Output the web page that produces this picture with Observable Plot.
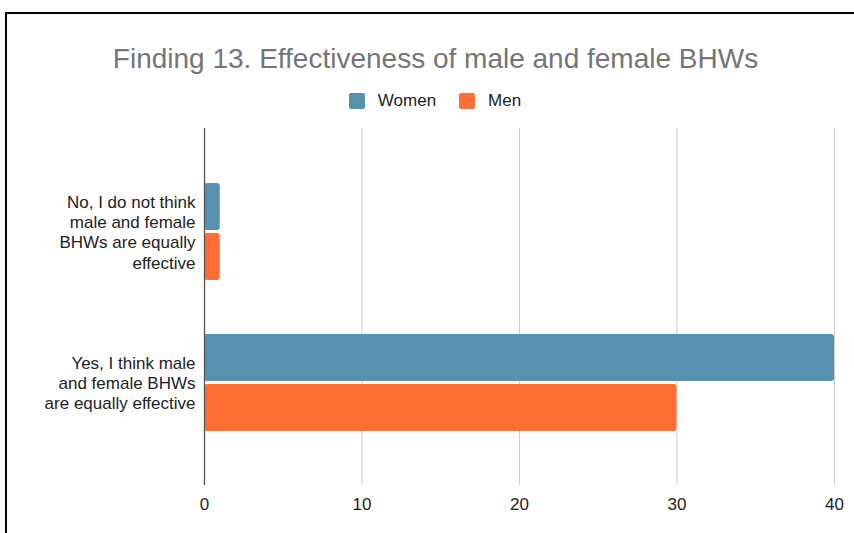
<!DOCTYPE html>
<html>
<head>
<meta charset="utf-8">
<script src="https://cdn.jsdelivr.net/npm/d3@7"></script>
<script src="https://cdn.jsdelivr.net/npm/@observablehq/plot@0.6"></script>
<style>
  body { margin: 0; background: #fff; font-family: "Liberation Sans", Arial, sans-serif; }
  #frame { position: relative; width: 854px; height: 533px; overflow: hidden; background: #fff; }
  #border { position: absolute; left: 5px; top: 12px; width: 900px; height: 600px;
            border-top: 2px solid #000; border-left: 2px solid #000; }
  #title { position: absolute; left: 0; width: 871px; top: 42px; text-align: center;
           font-size: 28px; line-height: 34px; color: #757575; white-space: nowrap; }
  #legend { position: absolute; left: 0; width: 870px; top: 91px; display: flex;
            justify-content: center; align-items: center; font-size: 17px; color: #222; }
  .item { display: flex; align-items: center; margin: 0 11.5px; }
  .swatch { width: 16px; height: 16px; border-radius: 2px; margin-right: 13px; }
  #chart { position: absolute; left: 0; top: 118px; }
</style>
</head>
<body>
<div id="frame">
  <div id="border"></div>
  <div id="title">Finding 13. Effectiveness of male and female BHWs</div>
  <div id="legend"></div>
  <div id="chart"></div>
</div>
<script>
// Survey answers (y categories) and how each is written on the axis
const categories = ["no", "yes"];
const categoryLabels = [
  "No, I do not think\nmale and female\nBHWs are equally\neffective",
  "Yes, I think male\nand female BHWs\nare equally effective"
];
// Respondent counts per answer
const series = ["Women", "Men"];
const women = [1, 40];
const men = [1, 30];
const colors = ["#5891b0", "#ff6d33"];
const xTicks = [0, 10, 20, 30, 40];

const rows = [];
categories.forEach((c, i) => {
  rows.push({category: c, group: "Women", value: women[i]});
  rows.push({category: c, group: "Men", value: men[i]});
});
const labelOf = new Map(categories.map((c, i) => [c, categoryLabels[i]]));

// Legend
const legend = document.getElementById("legend");
series.forEach((s, i) => {
  const item = document.createElement("div");
  item.className = "item";
  const sw = document.createElement("div");
  sw.className = "swatch";
  sw.style.background = colors[i];
  const tx = document.createElement("span");
  tx.textContent = s;
  item.append(sw, tx);
  legend.append(item);
});

const chart = Plot.plot({
  width: 854,
  height: 400,
  marginTop: 10,
  marginBottom: 33,
  marginLeft: 204,
  marginRight: 20,
  style: {fontFamily: '"Liberation Sans", Arial, sans-serif', fontSize: "17px", color: "#222", background: "transparent"},
  x: {domain: [0, 40], axis: null, label: null},
  y: {domain: categories, padding: 0.36, axis: null, label: null},
  color: {domain: series, range: colors},
  marks: [
    Plot.gridX(xTicks, {stroke: "#ccc", strokeOpacity: 1, strokeWidth: 1}),
    Plot.barX(rows.filter(d => d.group === "Women"), {
      x: "value", y: "category", fill: "group", insetBottom: 50, rx: 3
    }),
    Plot.barX(rows.filter(d => d.group === "Men"), {
      x: "value", y: "category", fill: "group", insetTop: 50, rx: 3
    }),
    Plot.ruleX([0], {stroke: "#555", strokeWidth: 1.3}),
    Plot.axisX(xTicks, {tickSize: 0, tickPadding: 12, fontSize: 17, label: null}),
    Plot.axisY({tickSize: 0, tickPadding: 9, fontSize: 17, lineHeight: 1.18, label: null,
                tickFormat: d => labelOf.get(d)})
  ]
});
document.getElementById("chart").append(chart);
</script>
</body>
</html>
